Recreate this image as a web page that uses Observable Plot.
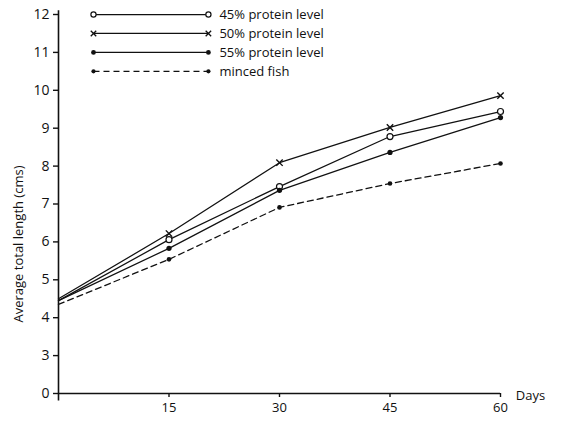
<!DOCTYPE html>
<html>
<head>
<meta charset="utf-8">
<script src="https://cdn.jsdelivr.net/npm/d3@7"></script>
<script src="https://cdn.jsdelivr.net/npm/@observablehq/plot@0.6"></script>
<style>
  html, body { margin: 0; padding: 0; background: #fff; }
  svg { display: block; }
</style>
</head>
<body>
<div id="chart"></div>
<script>
// ---- data ----
const days = [0, 15, 30, 45, 60];
const p45 = [4.45, 6.06, 7.46, 8.78, 9.44];
const p50 = [4.5, 6.22, 8.09, 9.02, 9.86];
const p55 = [4.45, 5.83, 7.36, 8.36, 9.28];
const minced = [4.35, 5.54, 6.91, 7.54, 8.07];
const seriesNames = ["45% protein level", "50% protein level", "55% protein level", "minced fish"];
const xTicks = [15, 30, 45, 60];
const yTicks = [0, 3, 4, 5, 6, 7, 8, 9, 10, 11, 12];

// broken axis: 0 is drawn where 2 would be
const yPos = v => (v === 0 ? 2 : v);

const seriesValues = [p45, p50, p55, minced];
const rows = [];
seriesValues.forEach((vals, si) => {
  days.forEach((d, i) => rows.push({series: seriesNames[si], day: d, len: vals[i]}));
});
const pts = rows.filter(d => d.day > 0);

// legend rows (in data coordinates of the plot area)
const legend = seriesNames.map((name, i) => ({series: name, y: 12 - i * 0.5, x1: 4.75, x2: 20.35}));
const legendEnds = legend.flatMap(d => [{series: d.series, x: d.x1, y: d.y}, {series: d.series, x: d.x2, y: d.y}]);

const font = "'Open Sans', 'Noto Sans', sans-serif";

const chart = Plot.plot({
  width: 575,
  height: 427,
  marginLeft: 58,
  marginRight: 75,
  marginTop: 14,
  marginBottom: 34,
  style: {fontFamily: font, fontSize: "12px", color: "#111", background: "#fff"},
  x: {domain: [0, 60]},
  y: {domain: [2, 12]},
  marks: [
    // axes
    Plot.axisY(yTicks.map(yPos), {anchor: "left", tickSize: 5, tickPadding: 4, tickFormat: v => (v === 2 ? "0" : String(v)), fontSize: 14, label: null, stroke: "#111", strokeWidth: 1.4, color: "#111"}),
    Plot.axisX(xTicks, {anchor: "bottom", tickSize: 4, tickPadding: 5, fontSize: 13, label: null, stroke: "#111", strokeWidth: 1.4}),
    Plot.ruleX([0], {y1: 1.8, y2: 12.1, stroke: "#111", strokeWidth: 1.6}),
    Plot.ruleY([2], {x1: 0, x2: 60, stroke: "#111", strokeWidth: 1.6}),
    Plot.text(["Days"], {x: 60, y: 2, dx: 30, dy: 2, text: d => d, fontSize: 13, fill: "#111"}),
    Plot.text(["Average total length (cms)"], {frameAnchor: "left", textAnchor: "middle", dx: -40, dy: 40, rotate: -90, text: d => d, fontSize: 13, fill: "#111"}),
    // data lines
    Plot.line(rows.filter(d => d.series !== "minced fish"), {x: "day", y: "len", z: "series", stroke: "#111", strokeWidth: 1.25}),
    Plot.line(rows.filter(d => d.series === "minced fish"), {x: "day", y: "len", stroke: "#111", strokeWidth: 1.3, strokeDasharray: "6,4"}),
    // markers
    Plot.dot(pts.filter(d => d.series === seriesNames[0]), {x: "day", y: "len", r: 3, fill: "#fff", stroke: "#111", strokeWidth: 1.2}),
    Plot.dot(pts.filter(d => d.series === seriesNames[1]), {x: "day", y: "len", r: 3, symbol: "times", stroke: "#111", strokeWidth: 1.4}),
    Plot.dot(pts.filter(d => d.series === seriesNames[2]), {x: "day", y: "len", r: 2.6, fill: "#111"}),
    Plot.dot(pts.filter(d => d.series === seriesNames[3]), {x: "day", y: "len", r: 2.3, fill: "#111"}),
    // legend
    Plot.link(legend.filter(d => d.series !== "minced fish"), {x1: "x1", x2: "x2", y1: "y", y2: "y", stroke: "#111", strokeWidth: 1.25}),
    Plot.link(legend.filter(d => d.series === "minced fish"), {x1: "x1", x2: "x2", y1: "y", y2: "y", stroke: "#111", strokeWidth: 1.3, strokeDasharray: "6,4"}),
    Plot.dot(legendEnds.filter(d => d.series === seriesNames[0]), {x: "x", y: "y", r: 2.6, fill: "#fff", stroke: "#111", strokeWidth: 1.2}),
    Plot.dot(legendEnds.filter(d => d.series === seriesNames[1]), {x: "x", y: "y", r: 2.6, symbol: "times", stroke: "#111", strokeWidth: 1.3}),
    Plot.dot(legendEnds.filter(d => d.series === seriesNames[2]), {x: "x", y: "y", r: 2.4, fill: "#111"}),
    Plot.dot(legendEnds.filter(d => d.series === seriesNames[3]), {x: "x", y: "y", r: 2.1, fill: "#111"}),
    Plot.text(legend, {x: "x2", y: "y", dx: 11, text: "series", textAnchor: "start", fontSize: 13, fill: "#111"})
  ]
});
document.getElementById("chart").appendChild(chart);
</script>
</body>
</html>
